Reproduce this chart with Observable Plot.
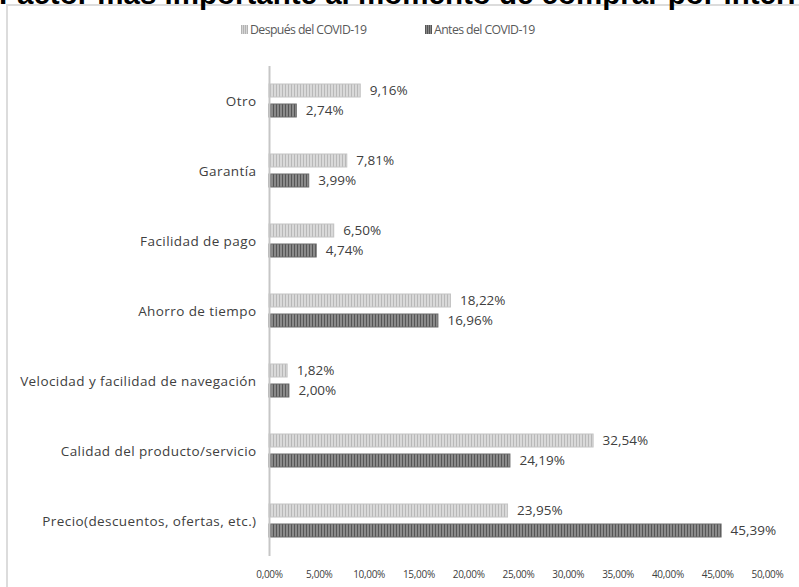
<!DOCTYPE html>
<html><head><meta charset="utf-8">
<script src="https://cdn.jsdelivr.net/npm/d3@7"></script>
<script src="https://cdn.jsdelivr.net/npm/@observablehq/plot@0.6"></script>
<style>
html,body{margin:0;padding:0;width:799px;height:587px;overflow:hidden;background:#fff;position:relative;font-family:"Open Sans",sans-serif;}
#frame{position:absolute;left:6px;top:4px;width:1000px;height:1000px;border:2px solid #dcdcdc;}
#title{position:absolute;left:-1px;top:-23px;white-space:nowrap;font:bold 29.5px "Liberation Sans",Arial,sans-serif;color:#000;}
.leg{position:absolute;top:21px;font-size:12.3px;letter-spacing:-0.6px;color:#595959;white-space:nowrap;display:flex;align-items:center;}
.leg svg{margin-right:2px;}
#chart{position:absolute;left:0;top:40px;}
#chart g[aria-label="fy-axis tick label"] text{letter-spacing:0.42px;}
#chart g[aria-label="x-axis tick label"] text{letter-spacing:-0.3px;}
</style></head>
<body>
<div id="frame"></div>
<div id="title">Factor más importante al momento de comprar por internet</div>
<div class="leg" style="left:241px"><svg width="7" height="9"><rect width="7" height="9" fill="url(#lgA)"/></svg>Después del COVID-19</div>
<div class="leg" style="left:425px"><svg width="7" height="9"><rect width="7" height="9" fill="url(#lgB)"/></svg>Antes del COVID-19</div>
<div id="chart"></div>
<script>
const categories = ["Otro","Garantía","Facilidad de pago","Ahorro de tiempo","Velocidad y facilidad de navegación","Calidad del producto/servicio","Precio(descuentos, ofertas, etc.)"];
const series = ["Después del COVID-19","Antes del COVID-19"];
const despues = [9.16,7.81,6.50,18.22,1.82,32.54,23.95];
const antes = [2.74,3.99,4.74,16.96,2.00,24.19,45.39];
const xTicks = [0,5,10,15,20,25,30,35,40,45,50];

const fmt = v => v.toFixed(2).replace(".", ",") + "%";
const data = [];
categories.forEach((c,i)=>{
  data.push({category:c, series:series[0], value:despues[i]});
  data.push({category:c, series:series[1], value:antes[i]});
});
const dA = data.filter(d=>d.series===series[0]);
const dB = data.filter(d=>d.series===series[1]);

const svg = Plot.plot({
  width:799, height:547,
  marginLeft:269, marginRight:32, marginTop:25, marginBottom:30,
  style:{fontFamily:"Open Sans, sans-serif", fontSize:"13px", color:"#404040", background:"transparent", overflow:"visible"},
  x:{domain:[0,50], axis:null},
  fy:{domain:categories, padding:0, axis:null},
  y:{domain:series, paddingInner:0.333, paddingOuter:0.84, axis:null},
  marks:[
    Plot.barX(dA,{x:"value", y:"series", fy:"category", fill:"url(#patA)", stroke:"#c4c4c4", strokeWidth:1}),
    Plot.barX(dB,{x:"value", y:"series", fy:"category", fill:"url(#patB)", stroke:"#6b6b6b", strokeWidth:1}),
    Plot.ruleX([0],{stroke:"#c6c6c6", strokeWidth:2}),
    Plot.text(data,{x:"value", y:"series", fy:"category", text:d=>fmt(d.value), dx:9, textAnchor:"start", fontSize:13.5, fill:"#404040"}),
    Plot.axisX({ticks:xTicks, tickFormat:fmt, tickSize:0, tickPadding:14, fontSize:10, fill:"#404040", anchor:"bottom", label:null}),
    Plot.axisFy({anchor:"left", tickSize:0, tickPadding:13, fontSize:13.5, fill:"#404040", label:null})
  ]
});
const defs = d3.select(svg).insert("defs", ":first-child");
function pat(id, base, stripe){
  const p = defs.append("pattern").attr("id", id).attr("patternUnits","userSpaceOnUse").attr("width",3).attr("height",10);
  p.append("rect").attr("width",3).attr("height",10).attr("fill",base);
  p.append("rect").attr("width",1).attr("height",10).attr("fill",stripe);
}
pat("patA","#d9d9d9","#b8b8b8");
pat("patB","#8a8a8a","#555555");
document.getElementById("chart").appendChild(svg);

const lsvg = d3.select("body").append("svg").attr("width",0).attr("height",0).style("position","absolute");
const ld = lsvg.append("defs");
function lpat(id, base, stripe){
  const p = ld.append("pattern").attr("id", id).attr("patternUnits","userSpaceOnUse").attr("width",2).attr("height",9);
  p.append("rect").attr("width",2).attr("height",9).attr("fill",base);
  p.append("rect").attr("width",1).attr("height",9).attr("fill",stripe);
}
lpat("lgA","#d6d6d6","#b3b3b3");
lpat("lgB","#8a8a8a","#555555");
</script>
</body></html>
